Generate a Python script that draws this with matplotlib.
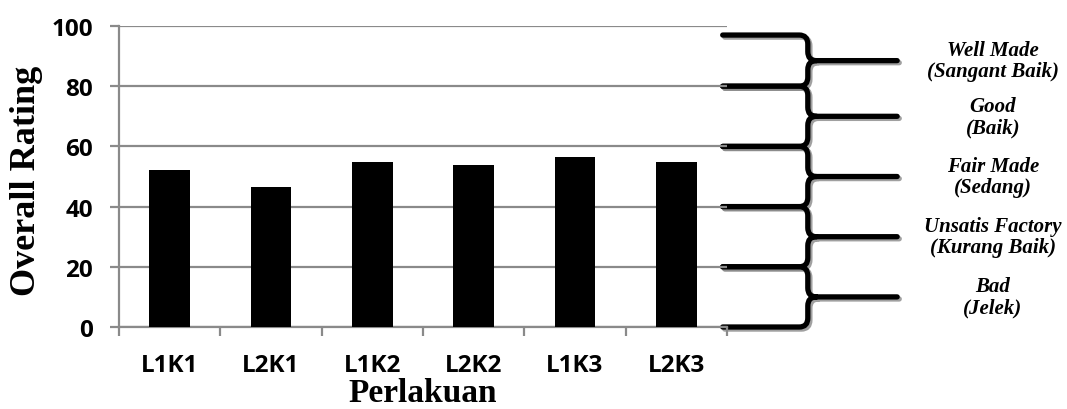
import matplotlib
matplotlib.use("Agg")
import matplotlib.pyplot as plt
import matplotlib.transforms as mtransforms
import matplotlib.patheffects as pe
from matplotlib.path import Path
from matplotlib.patches import PathPatch


# data
treatments = ["L1K1", "L2K1", "L1K2", "L2K2", "L1K3", "L2K3"]
rating = [52, 46.6, 54.8, 53.8, 56.5, 54.8]

# rating bands shown by the braces on the right
band_lo = [80, 60, 40, 20, 0]
band_hi = [100, 80, 60, 40, 20]
band_names = ["Well Made\n(Sangant Baik)", "Good\n(Baik)", "Fair Made\n(Sedang)",
              "Unsatis Factory\n(Kurang Baik)", "Bad\n(Jelek)"]

grid_grey = "#8a8a8a"
serif = "Liberation Serif"
sans = "Open Sans"

fig = plt.figure(figsize=(10.67, 4.10), dpi=100)
ax = fig.add_axes([0.1115, 0.2, 0.5698, 0.7341])

x = list(range(len(treatments)))
ax.bar(x, rating, width=0.4, color="black", zorder=3)

ax.set_xlim(-0.5, len(treatments) - 0.5)
ax.set_ylim(0, 100)

# y axis: grey grid, outward ticks
ax.set_yticks(range(0, 101, 20))
ax.yaxis.grid(True, color=grid_grey, linewidth=1.6, zorder=0)
ax.tick_params(axis="y", length=6.5, width=1.6, color=grid_grey, pad=12,
               labelsize=17.5)

# x axis: ticks at category edges, labels in the middle
ax.set_xticks([i - 0.5 for i in range(len(treatments) + 1)])
ax.set_xticklabels([])
ax.set_xticks(x, minor=True)
ax.set_xticklabels(treatments, minor=True)
ax.tick_params(axis="x", which="major", length=6.5, width=1.6, color=grid_grey)
ax.tick_params(axis="x", which="minor", length=0, pad=19, labelsize=17.5)

for lab in ax.get_yticklabels() + ax.get_xticklabels(minor=True):
    lab.set_fontfamily(sans)
    lab.set_fontweight("bold")

for side in ["top", "right"]:
    ax.spines[side].set_visible(False)
for side in ["left", "bottom"]:
    ax.spines[side].set_color(grid_grey)
    ax.spines[side].set_linewidth(1.6)

ax.set_ylabel("Overall Rating", fontsize=26, fontweight="bold", family=serif,
              va="center")
ax.yaxis.set_label_coords(-0.152, 0.49)
ax.set_xlabel("Perlakuan", fontsize=24, fontweight="bold", family=serif,
              va="center")
ax.xaxis.set_label_coords(0.5, -0.216)

# braces: x in axes fraction, y in data units
trans = mtransforms.blended_transform_factory(ax.transAxes, ax.transData)
x0, xv, x1 = 0.993, 1.133, 1.28
rx, ry = 0.014, 3.0
for lo, hi, name in zip(band_lo, band_hi, band_names):
    top = min(hi, 97)
    mid = (lo + top) / 2
    verts = [(x0, top), (xv - rx, top), (xv, top), (xv, top - ry),
             (xv, mid + ry), (xv, mid), (xv + rx, mid), (x1, mid),
             (xv + rx, mid), (xv, mid), (xv, mid - ry),
             (xv, lo + ry), (xv, lo), (xv - rx, lo), (x0, lo)]
    codes = [Path.MOVETO, Path.LINETO, Path.CURVE3, Path.CURVE3,
             Path.LINETO, Path.CURVE3, Path.CURVE3, Path.LINETO,
             Path.MOVETO, Path.CURVE3, Path.CURVE3,
             Path.LINETO, Path.CURVE3, Path.CURVE3, Path.LINETO]
    patch = PathPatch(Path(verts, codes), fill=False, edgecolor="black",
                      linewidth=3.8, transform=trans, clip_on=False,
                      capstyle="round", joinstyle="round")
    patch.set_path_effects([pe.SimpleLineShadow(offset=(1.5, -1.5),
                                                shadow_color="#888888", alpha=0.8),
                            pe.Normal()])
    ax.add_patch(patch)
    ax.text(1.4375, mid, name, transform=trans, ha="center", va="center",
            family=serif, fontsize=15, fontweight="bold", style="italic",
            linespacing=1.1)

fig.savefig("out.png", dpi=100)
